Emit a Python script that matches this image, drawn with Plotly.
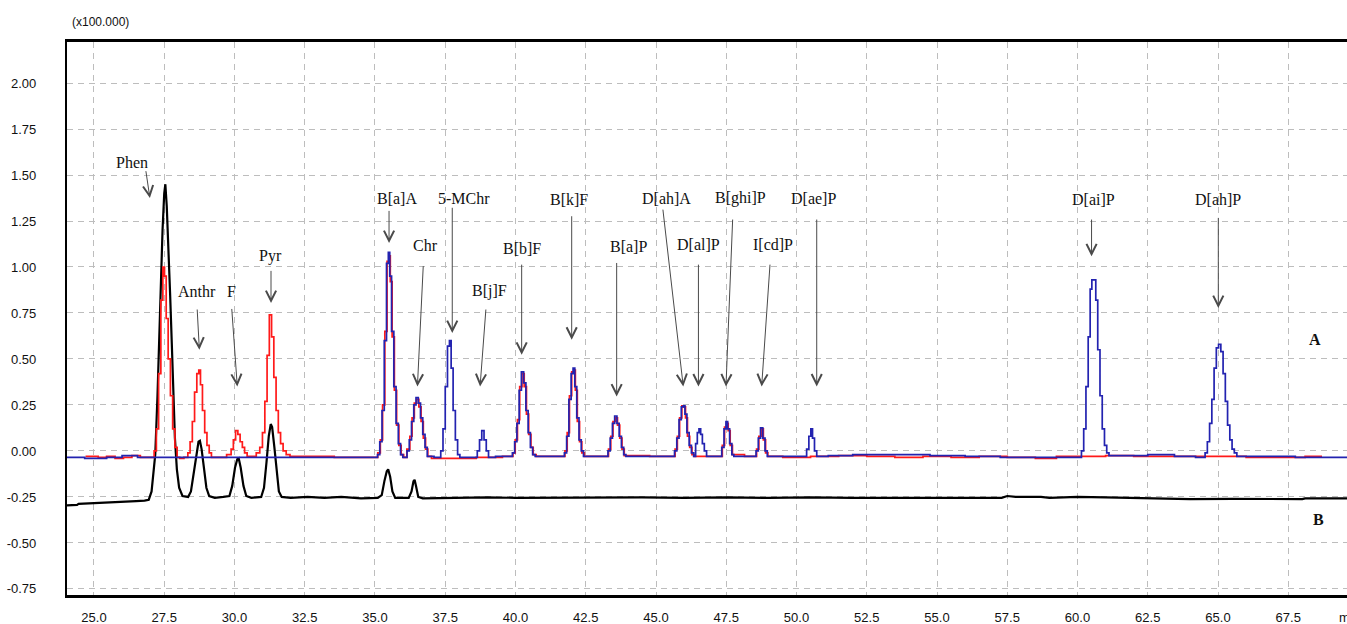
import plotly.graph_objects as go

# ---------------- data ----------------
# Trace B (black): sample chromatogram
black_time = [24.04, 24.40, 24.45, 25.00, 25.50, 26.00, 26.50, 26.80, 26.95, 27.05, 27.12, 27.18,
              27.26, 27.35, 27.44, 27.50, 27.54, 27.59, 27.65, 27.71, 27.77, 27.83, 27.88, 27.95,
              28.03, 28.15, 28.35, 28.45, 28.55, 28.64, 28.72, 28.77, 28.83, 28.92, 29.00, 29.10,
              29.30, 29.60, 29.82, 29.92, 30.02, 30.10, 30.15, 30.22, 30.32, 30.42, 30.60, 30.95,
              31.05, 31.14, 31.22, 31.29, 31.34, 31.42, 31.50, 31.58, 31.68, 32.00, 32.60, 33.20,
              33.80, 34.50, 35.10, 35.24, 35.34, 35.42, 35.47, 35.54, 35.62, 35.72, 36.20, 36.30,
              36.37, 36.41, 36.46, 36.54, 36.70, 37.50, 38.50, 39.00, 40.00, 41.50, 43.00, 44.50,
              46.00, 47.50, 49.00, 50.50, 52.00, 53.50, 55.00, 57.30, 57.50, 57.80, 58.70, 59.00,
              60.00, 61.00, 62.50, 63.90, 64.00, 65.50, 67.00, 68.00, 68.10, 69.60]
black_signal = [-0.296, -0.293, -0.288, -0.285, -0.282, -0.277, -0.273, -0.270, -0.265, -0.220, -0.120, -0.020,
                0.300, 0.780, 1.200, 1.400, 1.450, 1.330, 1.120, 0.850, 0.580, 0.300, 0.070, -0.100,
                -0.200, -0.245, -0.250, -0.220, -0.120, -0.010, 0.050, 0.055, 0.010, -0.100, -0.200, -0.245,
                -0.255, -0.250, -0.245, -0.190, -0.090, -0.045, -0.040, -0.090, -0.190, -0.245, -0.255, -0.250,
                -0.200, -0.060, 0.080, 0.146, 0.130, 0.020, -0.120, -0.220, -0.250, -0.255, -0.250, -0.255,
                -0.250, -0.258, -0.255, -0.240, -0.160, -0.110, -0.100, -0.140, -0.220, -0.255, -0.255, -0.220,
                -0.165, -0.157, -0.190, -0.250, -0.258, -0.255, -0.250, -0.252, -0.255, -0.253, -0.255, -0.252,
                -0.255, -0.252, -0.255, -0.252, -0.255, -0.253, -0.255, -0.255, -0.245, -0.250, -0.250, -0.255,
                -0.250, -0.252, -0.257, -0.260, -0.262, -0.260, -0.262, -0.262, -0.258, -0.258]

# Trace A (red): standard mixture
red_time = [24.70, 25.00, 25.30, 25.60, 25.90, 26.20, 26.50, 26.80, 27.10,
            27.18, 27.26, 27.34, 27.42, 27.48, 27.54, 27.60, 27.68, 27.76, 27.84, 27.92, 28.00, 28.10, 28.30,
            28.38, 28.46, 28.54, 28.62, 28.70, 28.76, 28.82, 28.90, 28.98, 29.06, 29.14, 29.22, 29.60,
            29.84, 29.92, 30.00, 30.08, 30.16, 30.24, 30.32, 30.40, 30.50, 30.70,
            30.85, 30.95, 31.04, 31.12, 31.20, 31.28, 31.36, 31.44, 31.52, 31.60, 31.68, 31.78, 31.90, 32.05, 35.05,
            35.15, 35.23, 35.31, 35.39, 35.47, 35.52, 35.57, 35.65, 35.73, 35.81, 35.89, 35.97, 36.07,
            36.20, 36.28, 36.36, 36.44, 36.52, 36.60, 36.68, 36.76, 36.84, 36.92, 37.10, 38.00, 39.20, 39.87,
            39.95, 40.03, 40.11, 40.19, 40.27, 40.35, 40.43, 40.51, 40.59, 40.67, 40.80, 41.72,
            41.80, 41.88, 41.96, 42.04, 42.10, 42.16, 42.24, 42.32, 42.40, 42.50, 43.27,
            43.35, 43.43, 43.51, 43.59, 43.67, 43.75, 43.83, 43.91, 45.64,
            45.72, 45.80, 45.88, 45.96, 46.02, 46.08, 46.16, 46.24, 46.32, 46.40, 47.32,
            47.40, 47.48, 47.54, 47.60, 47.68, 47.76, 48.54,
            48.62, 48.70, 48.78, 48.86, 48.94, 49.02, 50.00, 51.00, 52.00, 53.00, 54.00, 55.00,
            56.00, 57.00, 58.00, 59.00, 59.50, 60.50, 61.50, 62.50, 63.50, 64.50, 65.50, 66.50, 67.50, 68.70]
red_signal = [-0.030, -0.030, -0.035, -0.030, -0.040, -0.035, -0.025, -0.035, -0.035,
              0.000, 0.120, 0.420, 0.820, 1.000, 0.950, 0.720, 0.500, 0.300, 0.120, 0.020, -0.035, -0.040, -0.035,
              -0.010, 0.050, 0.160, 0.320, 0.420, 0.440, 0.360, 0.220, 0.100, 0.030, -0.010, -0.035, -0.035,
              -0.020, 0.010, 0.060, 0.110, 0.090, 0.050, 0.020, -0.010, -0.030, -0.030,
              -0.010, 0.020, 0.100, 0.270, 0.520, 0.740, 0.620, 0.400, 0.220, 0.100, 0.040, 0.000, -0.020, -0.030, -0.035,
              -0.010, 0.060, 0.250, 0.650, 1.030, 1.060, 0.920, 0.620, 0.330, 0.140, 0.030, -0.020, -0.035,
              0.010, 0.080, 0.180, 0.260, 0.280, 0.240, 0.160, 0.070, 0.010, -0.030, -0.040, -0.040, -0.035, -0.030,
              -0.010, 0.060, 0.170, 0.350, 0.420, 0.350, 0.200, 0.090, 0.020, -0.020, -0.030, -0.030,
              0.000, 0.100, 0.300, 0.430, 0.440, 0.330, 0.160, 0.050, -0.010, -0.030, -0.030,
              0.010, 0.080, 0.160, 0.180, 0.140, 0.070, 0.010, -0.025, -0.030,
              0.010, 0.080, 0.180, 0.245, 0.240, 0.180, 0.080, 0.020, -0.020, -0.030, -0.030,
              0.030, 0.130, 0.150, 0.110, 0.030, -0.020, -0.030,
              0.010, 0.080, 0.120, 0.060, -0.010, -0.030, -0.035, -0.030, -0.025, -0.030, -0.035, -0.030,
              -0.035, -0.030, -0.035, -0.040, -0.030, -0.030, -0.025, -0.030, -0.030, -0.030, -0.030, -0.035, -0.035, -0.030]

# Trace A (blue): sample
blue_time = [24.04, 25.30, 25.60, 26.40, 26.70, 35.05,
             35.13, 35.21, 35.29, 35.37, 35.45, 35.50, 35.55, 35.63, 35.71, 35.79, 35.87, 35.95, 36.03,
             36.10, 36.18, 36.26, 36.34, 36.42, 36.50, 36.58, 36.66, 36.74, 36.82, 36.90,
             37.30, 37.38, 37.46, 37.54, 37.62, 37.68, 37.74, 37.82, 37.90, 37.98, 38.06,
             38.60, 38.68, 38.76, 38.84, 38.92, 39.00, 39.08, 39.50,
             39.85, 39.93, 40.01, 40.09, 40.17, 40.25, 40.33, 40.41, 40.49, 40.57, 40.65, 40.75,
             41.70, 41.78, 41.86, 41.94, 42.02, 42.08, 42.14, 42.22, 42.30, 42.38, 42.46,
             43.25, 43.33, 43.41, 43.49, 43.57, 43.65, 43.73, 43.81, 43.89, 43.97,
             45.62, 45.70, 45.78, 45.86, 45.94, 46.00, 46.06, 46.14, 46.22, 46.30,
             46.38, 46.44, 46.50, 46.56, 46.62, 46.68, 46.76, 46.84,
             47.30, 47.38, 47.46, 47.52, 47.58, 47.66, 47.74, 47.80,
             48.52, 48.60, 48.68, 48.76, 48.84, 48.92, 49.00,
             50.32, 50.40, 50.48, 50.54, 50.60, 50.68, 50.76,
             51.50, 52.50, 54.00, 55.50, 56.50, 58.00, 59.50,
             60.10, 60.18, 60.26, 60.34, 60.42, 60.48, 60.54, 60.62, 60.68, 60.76, 60.84, 60.92, 61.00, 61.08, 61.16,
             62.00, 63.00, 63.90, 64.50,
             64.58, 64.66, 64.74, 64.82, 64.90, 64.98, 65.06, 65.14, 65.22, 65.30, 65.38, 65.46, 65.54, 65.62, 65.72,
             67.00, 68.50, 69.60]
blue_signal = [-0.035, -0.040, -0.035, -0.025, -0.035, -0.035,
               -0.020, 0.050, 0.220, 0.600, 1.020, 1.080, 0.950, 0.650, 0.350, 0.150, 0.040, -0.020, -0.035,
               -0.035, 0.000, 0.060, 0.160, 0.250, 0.290, 0.260, 0.180, 0.090, 0.020, -0.030,
               -0.035, 0.000, 0.120, 0.350, 0.570, 0.600, 0.450, 0.220, 0.060, -0.020, -0.035,
               -0.035, 0.000, 0.060, 0.110, 0.060, 0.000, -0.035, -0.030,
               -0.030, -0.010, 0.050, 0.150, 0.330, 0.430, 0.370, 0.220, 0.100, 0.020, -0.020, -0.030,
               -0.030, -0.010, 0.080, 0.280, 0.420, 0.450, 0.350, 0.180, 0.060, 0.000, -0.030,
               -0.030, 0.000, 0.070, 0.150, 0.190, 0.150, 0.080, 0.020, -0.020, -0.030,
               -0.030, 0.000, 0.070, 0.170, 0.240, 0.245, 0.200, 0.100, 0.030, -0.010,
               -0.030, 0.040, 0.100, 0.120, 0.090, 0.040, 0.000, -0.030,
               -0.030, 0.020, 0.120, 0.160, 0.120, 0.040, -0.020, -0.030,
               -0.030, 0.000, 0.070, 0.125, 0.070, 0.000, -0.030,
               -0.030, 0.010, 0.080, 0.120, 0.070, 0.000, -0.030,
               -0.025, -0.020, -0.020, -0.025, -0.030, -0.035, -0.035,
               -0.035, 0.000, 0.120, 0.350, 0.620, 0.880, 0.930, 0.930, 0.820, 0.550, 0.300, 0.120, 0.030, -0.010, -0.025,
               -0.025, -0.020, -0.030, -0.035,
               -0.010, 0.050, 0.150, 0.280, 0.450, 0.560, 0.580, 0.540, 0.420, 0.270, 0.140, 0.060, 0.010, -0.010, -0.030,
               -0.030, -0.035, -0.035]

# Peak labels
compound_labels = ["Phen", "Anthr", "F", "Pyr", "B[a]A", "Chr", "5-MChr", "B[j]F", "B[b]F",
                   "B[k]F", "B[a]P", "D[ah]A", "D[al]P", "B[ghi]P", "I[cd]P", "D[ae]P",
                   "D[ai]P", "D[ah]P"]

x_tick_values = [25.0, 27.5, 30.0, 32.5, 35.0, 37.5, 40.0, 42.5, 45.0, 47.5, 50.0, 52.5,
                 55.0, 57.5, 60.0, 62.5, 65.0, 67.5]
x_tick_labels = ["25.0", "27.5", "30.0", "32.5", "35.0", "37.5", "40.0", "42.5", "45.0", "47.5",
                 "50.0", "52.5", "55.0", "57.5", "60.0", "62.5", "65.0", "67.5"]
y_tick_values = [-0.75, -0.50, -0.25, 0.00, 0.25, 0.50, 0.75, 1.00, 1.25, 1.50, 1.75, 2.00]
y_tick_labels = ["-0.75", "-0.50", "-0.25", "0.00", "0.25", "0.50", "0.75", "1.00", "1.25",
                 "1.50", "1.75", "2.00"]

# ---------------- layout of the labels (text centre, arrow start, arrow tip) ----------------
label_layout = [
    ((26.34, 1.570), (26.84, 1.529), (26.99, 1.375)),
    ((28.68, 0.867), (28.67, 0.777), (28.75, 0.550)),
    ((29.90, 0.867), (29.90, 0.780), (30.10, 0.351)),
    ((31.29, 1.058), (31.30, 0.987), (31.30, 0.804)),
    ((35.77, 1.375), (35.50, 1.313), (35.50, 1.130)),
    ((36.78, 1.117), (36.72, 1.013), (36.51, 0.351)),
    ((38.17, 1.375), (37.75, 1.330), (37.75, 0.641)),
    ((39.09, 0.867), (38.95, 0.777), (38.74, 0.351)),
    ((40.22, 1.103), (40.22, 1.021), (40.22, 0.523)),
    ((41.91, 1.366), (42.00, 1.284), (42.00, 0.605)),
    ((44.01, 1.112), (43.60, 1.030), (43.60, 0.296)),
    ((45.38, 1.375), (45.24, 1.320), (45.97, 0.351)),
    ((46.51, 1.121), (46.51, 1.021), (46.51, 0.351)),
    ((47.99, 1.375), (47.73, 1.266), (47.49, 0.351)),
    ((49.17, 1.121), (49.06, 1.021), (48.76, 0.351)),
    ((50.60, 1.375), (50.72, 1.266), (50.72, 0.351)),
    ((60.56, 1.366), (60.50, 1.266), (60.50, 1.058)),
    ((65.01, 1.366), (65.01, 1.275), (65.01, 0.777)),
]

SERIF = "Liberation Serif, Times New Roman, serif"
SANS = "Arial, Liberation Sans, sans-serif"

fig = go.Figure()
fig.add_trace(go.Scatter(x=black_time, y=black_signal, mode="lines", name="B",
                         line=dict(color="#000000", width=2.2)))
fig.add_trace(go.Scatter(x=red_time, y=red_signal, mode="lines", name="A (red)",
                         line=dict(color="#ff1a1a", width=1.7, shape="hvh")))
fig.add_trace(go.Scatter(x=blue_time, y=blue_signal, mode="lines", name="A (blue)",
                         line=dict(color="#2323b0", width=1.7, shape="hvh")))

annotations = []
for name, (txt, start, tip) in zip(compound_labels, label_layout):
    annotations.append(dict(x=txt[0], y=txt[1], xref="x", yref="y", text=name, showarrow=False,
                            font=dict(family=SERIF, size=16, color="#111111"),
                            xanchor="center", yanchor="middle"))
    annotations.append(dict(x=tip[0], y=tip[1], ax=start[0], ay=start[1], xref="x", yref="y",
                            axref="x", ayref="y", text="", showarrow=True, arrowhead=5,
                            arrowsize=2.0, arrowwidth=1, arrowcolor="#4a4a4a", standoff=0))

annotations.append(dict(x=68.45, y=0.605, xref="x", yref="y", text="<b>A</b>", showarrow=False,
                        font=dict(family=SERIF, size=16, color="#111111")))
annotations.append(dict(x=68.59, y=-0.374, xref="x", yref="y", text="<b>B</b>", showarrow=False,
                        font=dict(family=SERIF, size=16, color="#111111")))
annotations.append(dict(x=(70 - 67) / 1280, y=(595 - 22) / 553, xref="paper", yref="paper",
                        text="(x100.000)", showarrow=False, xanchor="left", yanchor="middle",
                        font=dict(family=SANS, size=12, color="#111111")))
annotations.append(dict(x=(1337 - 67) / 1280, y=(595 - 617) / 553, xref="paper", yref="paper",
                        text="min", showarrow=False, xanchor="left", yanchor="middle",
                        font=dict(family=SANS, size=13, color="#111111")))

fig.update_layout(
    width=1347, height=624,
    margin=dict(l=67, r=0, t=42, b=29, autoexpand=False),
    paper_bgcolor="white", plot_bgcolor="white",
    showlegend=False,
    annotations=annotations,
)
fig.update_xaxes(range=[24.04, 69.59], tickmode="array", tickvals=x_tick_values,
                 ticktext=x_tick_labels, showgrid=True, gridcolor="#bdbdbd", gridwidth=1,
                 griddash="6px,5px", zeroline=False, showline=True, linecolor="#000000",
                 linewidth=2.5, mirror=True, ticks="", ticklabelstandoff=9, automargin=False,
                 tickfont=dict(family=SANS, size=13, color="#111111"))
fig.update_yaxes(range=[-0.783, 2.223], tickmode="array", tickvals=y_tick_values,
                 ticktext=y_tick_labels, showgrid=True, gridcolor="#bdbdbd", gridwidth=1,
                 griddash="6px,5px", zeroline=False, showline=True, linecolor="#000000",
                 linewidth=2.2, ticks="", ticklabelstandoff=26, automargin=False,
                 tickfont=dict(family=SANS, size=13, color="#111111"))

fig.write_html("out.html", config={"displayModeBar": False},
               post_script="document.body.style.margin='0';document.body.style.padding='0';"
                           "document.body.style.overflow='hidden';")
